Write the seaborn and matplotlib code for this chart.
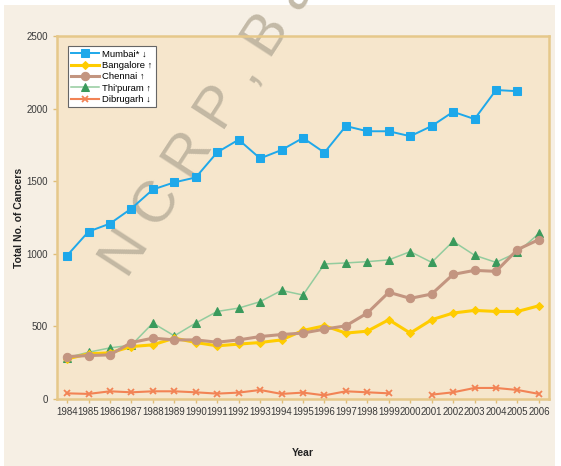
import numpy as np
import pandas as pd
import matplotlib
matplotlib.use("Agg")
import matplotlib.pyplot as plt
from matplotlib.patches import Rectangle
import seaborn as sns

years = list(range(1984, 2007))
mumbai = [988, 1153, 1208, 1312, 1443, 1492, 1526, 1699, 1786, 1657, 1715, 1798, 1697,
          1880, 1844, 1844, 1810, 1880, 1978, 1928, 2128, 2120, np.nan]
bangalore = [276, 311, 318, 361, 373, 419, 389, 366, 378, 389, 407, 472, 504,
             454, 467, 546, 454, 546, 592, 610, 603, 603, 642]
chennai = [292, 299, 304, 389, 419, 407, 407, 391, 407, 430, 444, 454, 481,
           504, 592, 735, 693, 723, 858, 886, 879, 1029, 1098]
thipuram = [285, 322, 352, 371, 523, 435, 523, 603, 626, 670, 748, 716, 930,
            937, 946, 958, 1015, 941, 1086, 990, 941, 1010, 1140]
dibrugarh = [39, 35, 53, 46, 53, 53, 46, 37, 44, 62, 35, 44, 25,
             53, 46, 39, np.nan, 30, 46, 76, 76, 62, 35]
labels = ["Mumbai* \u2193", "Bangalore \u2191", "Chennai \u2191", "Thi'puram \u2191", "Dibrugarh \u2193"]

plt.rcParams['font.family'] = ['Liberation Sans Narrow', 'Liberation Sans', 'DejaVu Sans']

fig = plt.figure(figsize=(5.61, 4.66), dpi=100, facecolor="white")
# beige card behind the chart, thin white margin at the edges
fig.patches.append(Rectangle((4 / 561, 0), 551 / 561, 461 / 466, transform=fig.transFigure,
                             facecolor="#f6efe4", edgecolor="none", zorder=-5))
ax = fig.add_axes([0.1016, 0.1438, 0.877, 0.7789])
ax.set_facecolor("#f6e6cc")

df = pd.DataFrame({"year": years, "mumbai": mumbai, "bangalore": bangalore,
                   "chennai": chennai, "thipuram": thipuram, "dibrugarh": dibrugarh})
# split Dibrugarh at the missing year so the line breaks
df["seg"] = np.where(df["year"] < 2000, 0, 1)

sns.lineplot(data=df, x="year", y="mumbai", ax=ax, color="#1ea8ea", lw=1.4,
             marker="s", ms=5.5, mec="#1ea8ea", label=labels[0], zorder=6)
sns.lineplot(data=df, x="year", y="bangalore", ax=ax, color="#ffcc00", lw=2.2,
             marker="D", ms=4.5, mec="#ffcc00", label=labels[1], zorder=4)
sns.lineplot(data=df, x="year", y="chennai", ax=ax, color="#c39580", lw=2.2,
             marker="o", ms=6, mec="#c39580", label=labels[2], zorder=5)
sns.lineplot(data=df, x="year", y="thipuram", ax=ax, color="#93cc9e", lw=1.1,
             marker="^", ms=5.5, mfc="#3a9a5c", mec="#3a9a5c", label=labels[3], zorder=3)
for s, part in df.groupby("seg"):
    sns.lineplot(data=part, x="year", y="dibrugarh", ax=ax, color="#f28355", lw=1.5,
                 marker="x", ms=5, mew=1.3, mec="#f28355",
                 label=labels[4] if s == 0 else "_nolegend_", zorder=4)

ax.set_xlim(1983.53, 2006.47)
ax.set_ylim(0, 2500)
ax.set_xticks(years)
ax.set_xticklabels([str(y) for y in years])
ax.set_yticks([0, 500, 1000, 1500, 2000, 2500])
ax.tick_params(axis="both", colors="#e0bd78", labelcolor="#3a3a3a", labelsize=7, length=3, width=1)
ax.tick_params(axis="x", pad=3)
for sp in ax.spines.values():
    sp.set_color("#e6c88a")
    sp.set_linewidth(1.8)

ax.set_xlabel("Year", fontsize=7.5, fontweight="bold", color="#222222", labelpad=22)
ax.set_ylabel("Total No. of Cancers", fontsize=7.5, fontweight="bold", color="#222222", labelpad=2)

leg = ax.legend(loc="upper left", bbox_to_anchor=(0.012, 0.985), fontsize=6.8, frameon=True,
                fancybox=False, edgecolor="#666666", framealpha=1, handlelength=3,
                labelspacing=0.25, borderpad=0.35, handletextpad=0.3)
leg.get_frame().set_linewidth(0.8)
leg.set_zorder(10)

# faint watermark across the plot (runs off the top edge as in the original)
ax.text(128 / 561, 1 - 280 / 466, "N C R P , B a", transform=fig.transFigure,
        rotation=57, fontsize=42, color="#bab09c", alpha=0.85, family="Liberation Sans",
        clip_on=False, zorder=1, ha="left", va="baseline", rotation_mode="anchor")

fig.savefig("out.png", dpi=100, facecolor=fig.get_facecolor())
